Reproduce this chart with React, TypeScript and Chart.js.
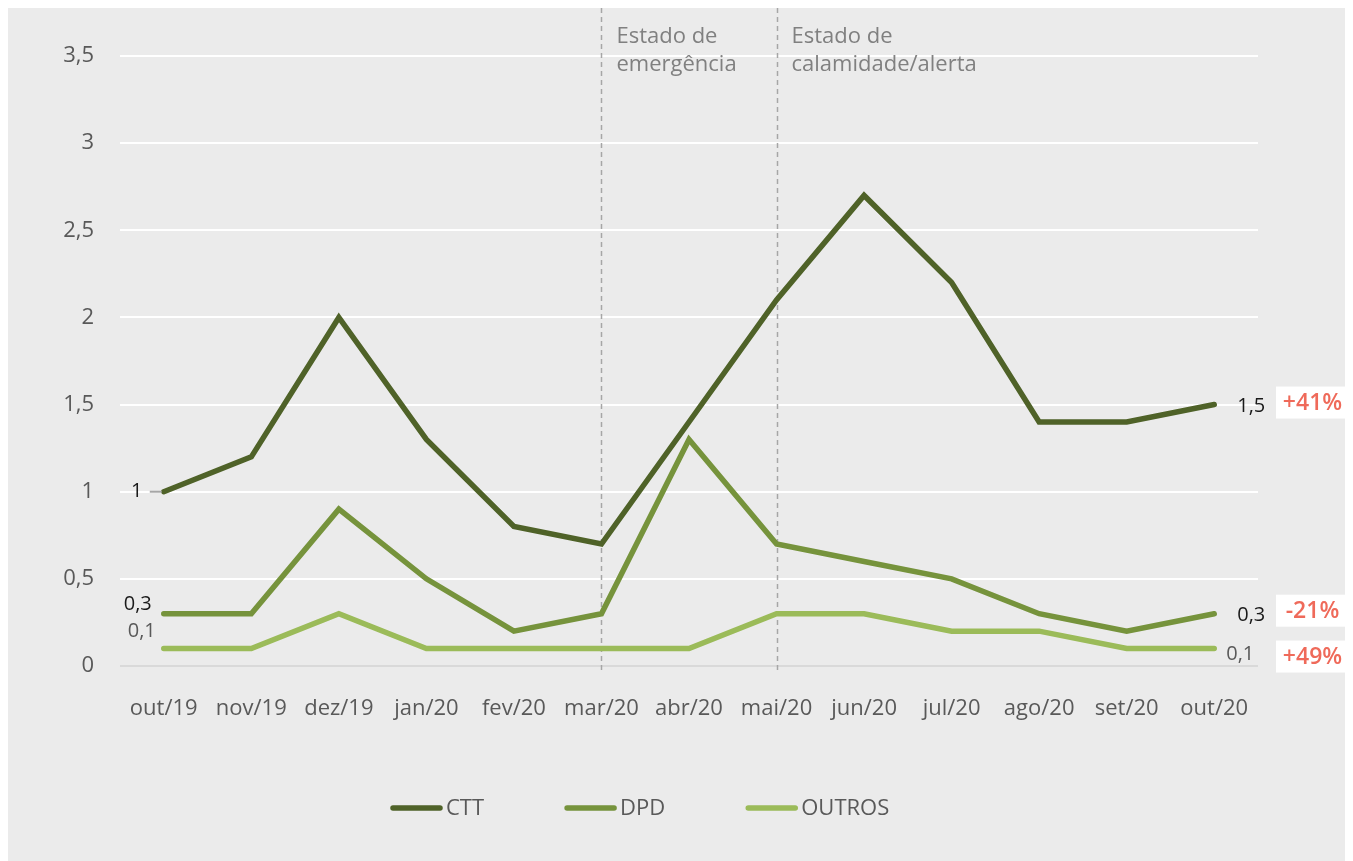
import React, { useEffect, useRef } from "react";
import { Chart, registerables } from "chart.js";

Chart.register(...registerables);

const categories = ["out/19", "nov/19", "dez/19", "jan/20", "fev/20", "mar/20", "abr/20", "mai/20", "jun/20", "jul/20", "ago/20", "set/20", "out/20"];
const seriesNames = ["CTT", "DPD", "OUTROS"];
const seriesColors = ["#4f6228", "#76933c", "#9bbb59"];
const ctt = [1, 1.2, 2, 1.3, 0.8, 0.7, 1.4, 2.1, 2.7, 2.2, 1.4, 1.4, 1.5];
const dpd = [0.3, 0.3, 0.9, 0.5, 0.2, 0.3, 1.3, 0.7, 0.6, 0.5, 0.3, 0.2, 0.3];
const outros = [0.1, 0.1, 0.3, 0.1, 0.1, 0.1, 0.1, 0.3, 0.3, 0.2, 0.2, 0.1, 0.1];
const changes = ["+41%", "-21%", "+49%"];
const phaseIndex = [5, 7];
const phaseLabels = [["Estado de", "emergência"], ["Estado de", "calamidade/alerta"]];

const FONT = "'Open Sans', 'Noto Sans', sans-serif";
const W = 1345;
const H = 853;

const fmt = (v: number) => String(v).replace(".", ",");

const overlay = {
  id: "overlay",
  beforeDatasetsDraw(chart: any) {
    const { ctx, chartArea, scales } = chart;
    ctx.save();
    ctx.strokeStyle = "#a6a6a6";
    ctx.lineWidth = 1.5;
    ctx.setLineDash([5, 4]);
    phaseIndex.forEach((idx) => {
      const x = Math.round(scales.x.getPixelForValue(idx)) + 0.5;
      ctx.beginPath();
      ctx.moveTo(x, 0);
      ctx.lineTo(x, chartArea.bottom + 4);
      ctx.stroke();
    });
    ctx.restore();
  },
  afterDraw(chart: any) {
    const { ctx, scales } = chart;
    ctx.save();
    // phase labels
    ctx.fillStyle = "#808080";
    ctx.font = `22px ${FONT}`;
    ctx.textAlign = "left";
    ctx.textBaseline = "middle";
    phaseIndex.forEach((idx, k) => {
      const x = scales.x.getPixelForValue(idx) + 15;
      phaseLabels[k].forEach((t, j) => ctx.fillText(t, x, 29 + j * 28));
    });

    const metas = [0, 1, 2].map((i) => chart.getDatasetMeta(i));
    const first = metas.map((m: any) => m.data[0]);
    const last = metas.map((m: any) => m.data[m.data.length - 1]);
    const vals = [ctt, dpd, outros];

    ctx.font = `20px ${FONT}`;
    // left labels
    ctx.fillStyle = "#1a1a1a";
    ctx.textAlign = "center";
    ctx.fillText(fmt(vals[0][0]), first[0].x - 27, first[0].y);
    ctx.strokeStyle = "#a6a6a6";
    ctx.lineWidth = 2;
    ctx.beginPath();
    ctx.moveTo(first[0].x - 14, first[0].y);
    ctx.lineTo(first[0].x - 2, first[0].y);
    ctx.stroke();
    ctx.textAlign = "right";
    ctx.fillText(fmt(vals[1][0]), first[1].x - 12, first[1].y - 9);
    ctx.fillStyle = "#595959";
    ctx.fillText(fmt(vals[2][0]), first[2].x - 8, first[2].y - 17);

    // right labels
    ctx.textAlign = "left";
    const n = categories.length - 1;
    ctx.fillStyle = "#1a1a1a";
    ctx.fillText(fmt(vals[0][n]), last[0].x + 23, last[0].y + 2);
    ctx.fillText(fmt(vals[1][n]), last[1].x + 23, last[1].y + 2);
    ctx.fillStyle = "#595959";
    ctx.fillText(fmt(vals[2][n]), last[2].x + 12, last[2].y + 6);

    // change boxes
    const offsets = [-2, -3, 8];
    ctx.font = `600 23px ${FONT}`;
    ctx.textAlign = "center";
    last.forEach((p: any, i: number) => {
      const cy = p.y + offsets[i];
      ctx.fillStyle = "#ffffff";
      ctx.fillRect(1268, cy - 16, 73, 32);
      ctx.fillStyle = "#ef6a5a";
      ctx.fillText(changes[i], 1268 + 36.5, cy + 1);
    });

    // legend
    ctx.font = `22px ${FONT}`;
    ctx.textAlign = "left";
    const lineLen = 53;
    const gap = 3;
    const spacing = 80;
    const widths = seriesNames.map((s) => lineLen + gap + ctx.measureText(s).width);
    let x = 382;
    const ly = 800;
    seriesNames.forEach((s, i) => {
      ctx.strokeStyle = seriesColors[i];
      ctx.lineWidth = 5.5;
      ctx.lineCap = "round";
      ctx.beginPath();
      ctx.moveTo(x + 3, ly);
      ctx.lineTo(x + lineLen - 3, ly);
      ctx.stroke();
      ctx.fillStyle = "#595959";
      ctx.fillText(s, x + lineLen + gap, ly + 1);
      x += widths[i] + spacing;
    });
    ctx.restore();
  },
};

export default function App() {
  const ref = useRef<HTMLCanvasElement | null>(null);
  useEffect(() => {
    document.documentElement.style.overflow = "hidden";
    Chart.defaults.font.family = FONT;
    const chart = new Chart(ref.current as HTMLCanvasElement, {
      type: "line",
      data: {
        labels: categories,
        datasets: [ctt, dpd, outros].map((d, i) => ({
          label: seriesNames[i],
          data: d,
          borderColor: seriesColors[i],
          backgroundColor: seriesColors[i],
          borderWidth: 5.5,
          pointRadius: 0,
          tension: 0,
          borderCapStyle: "round",
          borderJoinStyle: "miter",
          fill: false,
        })),
      } as any,
      options: {
        animation: false,
        responsive: false,
        devicePixelRatio: 1,
        layout: { padding: { top: 48, right: 95, left: 0, bottom: 0 } },
        plugins: { legend: { display: false }, tooltip: { enabled: false } },
        scales: {
          x: {
            type: "category",
            offset: true,
            grid: { display: false },
            border: { display: false },
            ticks: { font: { size: 22 }, color: "#595959", padding: 22, maxRotation: 0, autoSkip: false },
            afterFit: (s: any) => { s.height = H - 658; },
          },
          y: {
            min: 0,
            max: 3.5,
            border: { display: false },
            grid: {
              drawTicks: false,
              lineWidth: 2,
              color: (c: any) => (c.tick && c.tick.value === 0 ? "#d9d9d9" : "#ffffff"),
            },
            ticks: {
              stepSize: 0.5,
              padding: 26,
              font: { size: 22 },
              color: "#595959",
              callback: (v: any) => fmt(Number(v)),
            },
            afterFit: (s: any) => { s.width = 112; },
          },
        },
      } as any,
      plugins: [overlay],
    });
    return () => chart.destroy();
  }, []);
  return (
    <canvas
      ref={ref}
      width={W}
      height={H}
      style={{ display: "block", width: W, height: H, background: "#ebebeb" }}
    />
  );
}
